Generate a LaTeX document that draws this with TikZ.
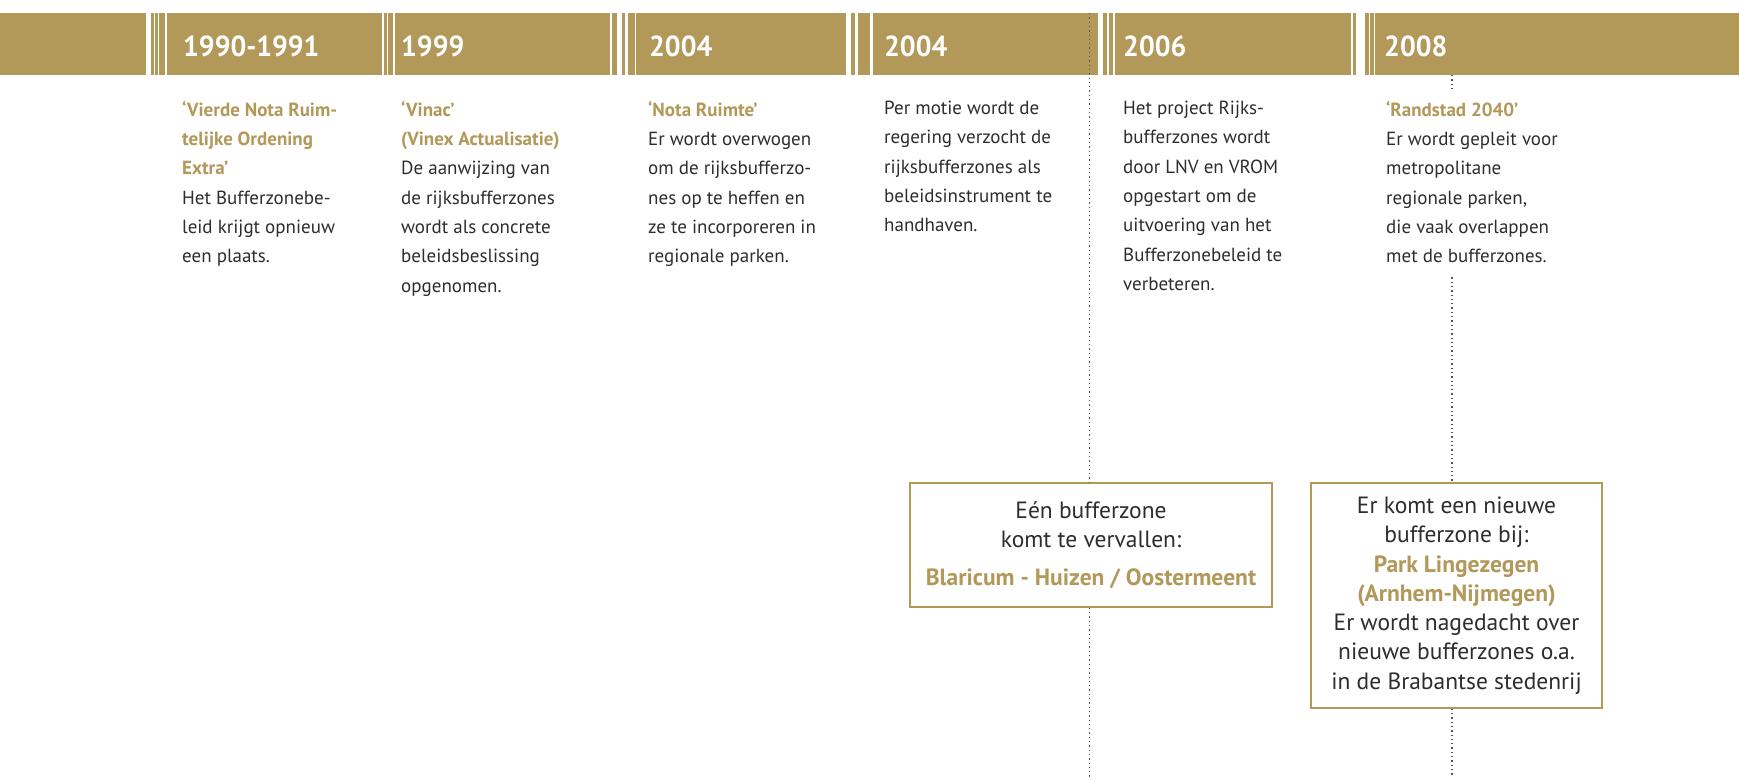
\documentclass[tikz,border=0pt]{standalone}
\usepackage{fontspec}
\setmainfont{PT Sans}
\newfontfamily\jaarfont[FakeStretch=0.96]{PT Sans}
\usetikzlibrary{positioning}
\definecolor{goud}{RGB}{178,152,89}
\definecolor{tekst}{RGB}{45,45,45}
\definecolor{stip}{RGB}{85,85,85}
\newcommand{\titel}[1]{{\bfseries\color{goud}#1}}
\newcommand{\streep}[1]{\foreach \xs/\ws in {#1} \fill[white] (\xs,13) rectangle ++(\ws,62);}
\tikzset{
  jaar/.style={anchor=west, text=white, inner sep=0, font=\jaarfont\bfseries\fontsize{29}{29}\selectfont},
  kolom/.style={anchor=north west, align=left, inner sep=0, text=tekst, font=\fontsize{19}{29.3}\selectfont},
  kader/.style={draw=goud, line width=1.5pt, fill=white, align=center, inner sep=0, text=tekst, font=\fontsize{23.5}{29.3}\selectfont},
  stippel/.style={draw=stip, line width=1.3pt, dash pattern=on 1.3pt off 3pt},
}
\begin{document}
\begin{tikzpicture}[x=1pt,y=-1pt]
  %%%%% START %%%%%
  \useasboundingbox (0,0) rectangle (1739,779);

  % balk met jaartallen
  \fill[goud] (0,13) rectangle (1739,75);
  \streep{146/5, 153.8/1.6, 157.8/1.6, 165.3/2}
  \streep{382/2, 386.6/1.4, 393/2}
  \streep{610.3/1.2, 616.7/5, 625.3/2.4, 634.7/1.5}
  \streep{846/4.5, 855/2.5, 870/2.5}
  \streep{1098/5, 1107/1.7, 1113/1.7}
  \streep{1351.3/2, 1356.3/8.4, 1368.7/1.3, 1374/1.3}

  \node[jaar] (j1) at (183,46) {1990-1991};
  \node[jaar] (j2) at (401,46) {1999};
  \node[jaar] (j3) at (649,46) {2004};
  \node[jaar] (j4) at (884,46) {2004};
  \node[jaar] (j5) at (1123,46) {2006};
  \node[jaar] (j6) at (1384,46) {2008};

  % kolommen
  \node[kolom] (vierde) at (182,101) {\titel{‘Vierde Nota Ruim-}\\\titel{telijke Ordening}\\\titel{Extra’}\\Het Bufferzonebe-\\leid krijgt opnieuw\\een plaats.};
  \node[kolom] (vinac) at (401,101) {\titel{‘Vinac’}\\\titel{(Vinex Actualisatie)}\\De aanwijzing van\\de rijksbufferzones\\wordt als concrete\\beleidsbeslissing\\opgenomen.};
  \node[kolom] (ruimte) at (648,101) {\titel{‘Nota Ruimte’}\\Er wordt overwogen\\om de rijksbufferzo-\\nes op te heffen en\\ze te incorporeren in\\regionale parken.};
  \node[kolom] (motie) at (884,101) {Per motie wordt de\\regering verzocht de\\rijksbufferzones als\\beleidsinstrument te\\handhaven.};
  \node[kolom] (project) at (1123,101) {Het project Rijks-\\bufferzones wordt\\door LNV en VROM\\opgestart om de\\uitvoering van het\\Bufferzonebeleid te\\verbeteren.};
  \node[kolom] (randstad) at (1386,101) {\titel{‘Randstad 2040’}\\Er wordt gepleit voor\\metropolitane\\regionale parken,\\die vaak overlappen\\met de bufferzones.};

  % kaders
  \node[kader, minimum width=362, minimum height=124] (vervallen) at (1091,545)
    {Eén bufferzone\\komt te vervallen:\\[8pt]\titel{Blaricum - Huizen / Oostermeent}};
  \node[kader, minimum width=291, minimum height=225] (nieuw) at (1456.5,595.5)
    {Er komt een nieuwe\\bufferzone bij:\\\titel{Park Lingezegen}\\\titel{(Arnhem-Nijmegen)}\\Er wordt nagedacht over\\nieuwe bufferzones o.a.\\in de Brabantse stedenrij};

  % stippellijnen
  \coordinate (l1top) at (1089.5,13);
  \coordinate (l1bot) at (1089.5,779);
  \coordinate (l2top) at (1452,75);
  \coordinate (l2bot) at (1452,775);
  \draw[stippel] (l1top) -- (vervallen.north -| l1top);
  \draw[stippel] (vervallen.south -| l1top) -- (l1bot);
  \draw[stippel] (l2top) -- ([yshift=10pt]randstad.north -| l2top);
  \draw[stippel] ([yshift=-14pt]randstad.south -| l2top) -- (nieuw.north -| l2top);
  \draw[stippel] (nieuw.south -| l2top) -- (l2bot);
  %%%%% END %%%%%
\end{tikzpicture}
\end{document}
